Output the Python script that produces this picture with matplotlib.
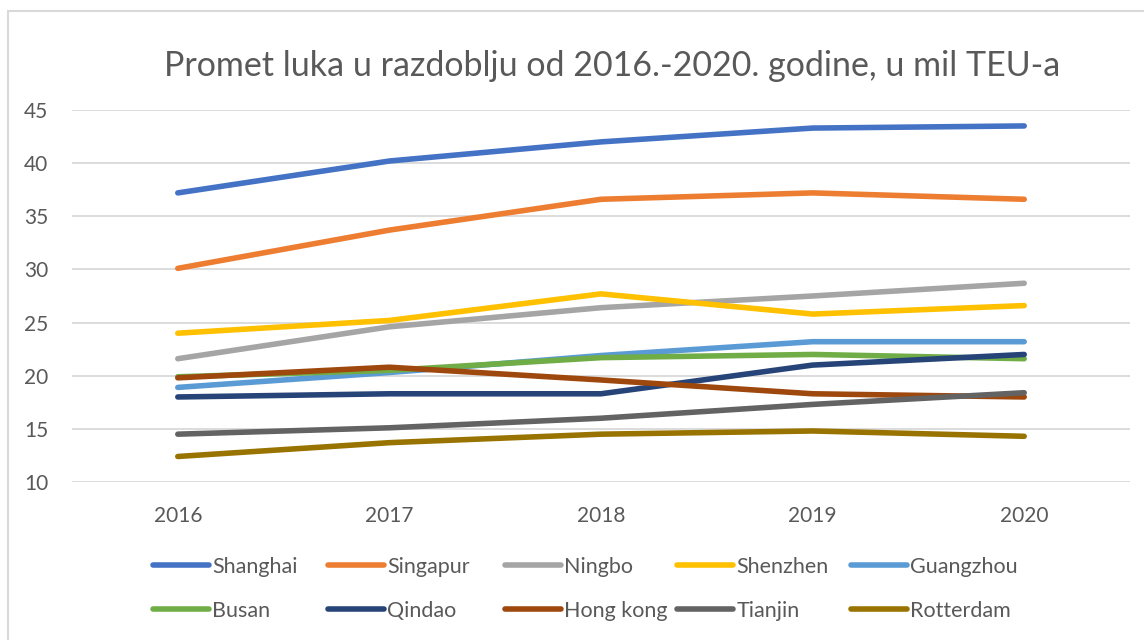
import matplotlib
matplotlib.use("Agg")
import matplotlib.pyplot as plt
from matplotlib.patches import Rectangle

plt.rcParams['font.family'] = ['Lato', 'DejaVu Sans']

years = ["2016", "2017", "2018", "2019", "2020"]
ports = ["Shanghai", "Singapur", "Ningbo", "Shenzhen", "Guangzhou",
         "Busan", "Qindao", "Hong kong", "Tianjin", "Rotterdam"]
shanghai = [37.2, 40.2, 42.0, 43.3, 43.5]
singapur = [30.1, 33.7, 36.6, 37.2, 36.6]
ningbo = [21.6, 24.6, 26.4, 27.5, 28.7]
shenzhen = [24.0, 25.2, 27.7, 25.8, 26.6]
guangzhou = [18.9, 20.3, 21.9, 23.2, 23.2]
busan = [19.9, 20.5, 21.7, 22.0, 21.6]
qindao = [18.0, 18.3, 18.3, 21.0, 22.0]
hongkong = [19.8, 20.8, 19.6, 18.3, 18.0]
tianjin = [14.5, 15.1, 16.0, 17.3, 18.4]
rotterdam = [12.4, 13.7, 14.5, 14.8, 14.3]
series = [shanghai, singapur, ningbo, shenzhen, guangzhou,
          busan, qindao, hongkong, tianjin, rotterdam]
colors = ["#4472C4", "#ED7D31", "#A5A5A5", "#FFC000", "#5B9BD5",
          "#70AD47", "#264478", "#9E480E", "#636363", "#997300"]

W, H = 1144, 640
fig = plt.figure(figsize=(W / 100, H / 100), dpi=100)
ax = fig.add_axes([72 / W, 1 - 482 / H, (1130 - 72) / W, (482 - 110) / H])

txt = "#595959"
x = list(range(len(years)))
for vals, c, name in zip(series, colors, ports):
    ax.plot(x, vals, color=c, lw=4.0, solid_capstyle='round',
            solid_joinstyle='round', label=name)

ax.set_xlim(-0.5, len(years) - 0.5)
ax.set_ylim(10, 45)
ax.set_yticks(range(10, 46, 5))
ax.set_xticks(x)
ax.set_xticklabels(years)
ax.grid(axis='y', color='#D9D9D9', lw=1.3)
ax.set_axisbelow(True)
for s in ax.spines.values():
    s.set_visible(False)
ax.tick_params(axis='both', length=0, colors=txt, labelsize=15)
ax.tick_params(axis='y', pad=17)
ax.tick_params(axis='x', pad=17)

fig.text(612 / W, 1 - 66 / H, "Promet luka u razdoblju od 2016.-2020. godine, u mil TEU-a",
         ha='center', va='center', fontsize=24.5, color=txt)

# chart border
fig.add_artist(Rectangle((7.5 / W, -0.5), 2, 0.5 + 1 - 10.5 / H, transform=fig.transFigure,
                         fill=False, edgecolor='#D9D9D9', lw=1.5))

# legend entries
col_x = [153, 328, 505, 677, 851]
row_y = [567, 611]
lines = ax.get_lines()
for i, (ln, name) in enumerate(zip(lines, ports)):
    r, cidx = divmod(i, 5)
    fig.legend([ln], [name], loc='center left',
               bbox_to_anchor=(col_x[cidx] / W, 1 - row_y[r] / H),
               frameon=False, fontsize=15.5, labelcolor=txt,
               handlelength=2.6, handletextpad=0.15,
               borderpad=0, borderaxespad=0)

fig.savefig("out.png", dpi=100)
